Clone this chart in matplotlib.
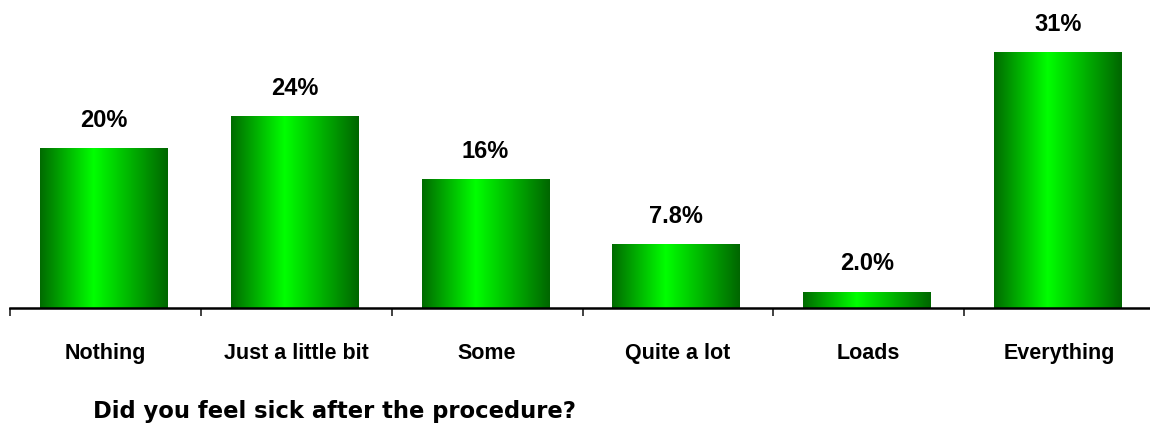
import matplotlib
matplotlib.use('Agg')
import matplotlib.pyplot as plt
import numpy as np
from matplotlib.colors import LinearSegmentedColormap

categories = ['Nothing', 'Just a little bit', 'Some', 'Quite a lot', 'Loads', 'Everything']
values = [19.6, 23.5, 15.8, 7.8, 2.0, 31.4]
labels = ['20%', '24%', '16%', '7.8%', '2.0%', '31%']
title = 'Did you feel sick after the procedure?'

narrow = ['Liberation Sans Narrow', 'Liberation Sans', 'DejaVu Sans']

# dark edges, bright green a bit left of centre
cmap = LinearSegmentedColormap.from_list(
    'bar', [(0.0, (0.0, 0.42, 0.0)), (0.42, (0.0, 1.0, 0.0)), (1.0, (0.0, 0.40, 0.0))])
grad = np.linspace(0, 1, 256).reshape(1, -1)

fig = plt.figure(figsize=(11.5, 4.34), dpi=100)
ax = fig.add_axes([0.0087, 0.29, 0.9957, 0.63])

width = 0.666
bars = ax.bar(range(len(values)), values, width=width, color='none', edgecolor='none')
for b, lab in zip(bars, labels):
    x0 = b.get_x() - 0.01
    h = b.get_height()
    b.set_x(x0)
    im = ax.imshow(grad, cmap=cmap, aspect='auto', extent=[x0, x0 + width, 0, h], zorder=2)
    im.set_clip_path(b)
    ax.text(x0 + width / 2, h + 2.0, lab, ha='center', va='bottom', fontsize=17,
            fontweight='bold', family=narrow, clip_on=False)
ax.set_xlim(-0.5, len(categories) - 0.5)
ax.set_ylim(0, 33.5)

for s in ['top', 'right', 'left']:
    ax.spines[s].set_visible(False)
ax.spines['bottom'].set_linewidth(1.8)
ax.set_yticks([])
ax.set_xticks(np.arange(-0.5, len(categories)), [''] * (len(categories) + 1))
ax.tick_params(axis='x', direction='out', length=6, width=1.3, color='#333333')
for i, c in enumerate(categories):
    ax.text(i, -5.6, c, ha='center', va='center', fontsize=15.5, fontweight='bold',
            family=narrow, clip_on=False)

fig.text(0.081, 0.052, title, fontsize=16.3, fontweight='bold',
         family=['DejaVu Sans'], ha='left', va='center')

fig.savefig('out.png', dpi=100)
